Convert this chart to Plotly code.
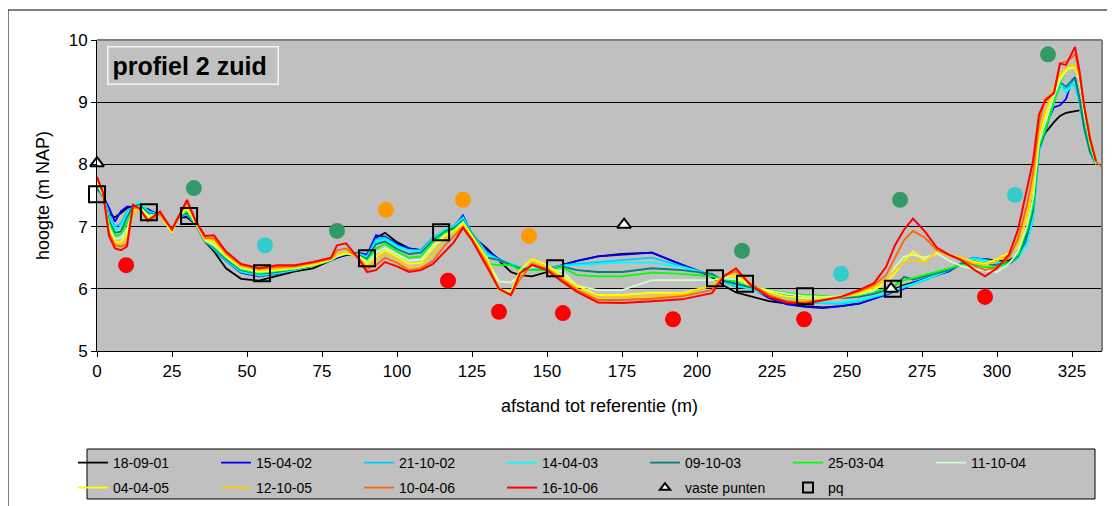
import plotly.graph_objects as go

# ---- shared distance grid (m) ----
X = [0, 2, 4, 6, 8, 10, 12, 14, 17, 21,
     25, 27, 30, 33, 36, 39, 43, 48, 54, 60,
     66, 72, 78, 80, 83, 87, 90, 93, 96, 100,
     104, 108, 112, 116, 119, 122, 125, 130, 134, 138,
     141, 145, 150, 155, 160, 167, 175, 185, 195, 205,
     209, 213, 218, 224, 230, 236, 242, 248, 254, 259,
     263, 266, 269, 272, 276, 280, 284, 288, 292, 296,
     300, 304, 307, 310, 312, 314, 316, 319, 321, 323,
     325, 326, 327.5, 329, 331, 333, 336]

# ---- profile heights (m NAP) per survey ----
S_180901 = [7.65, 7.5, 7.2, 7.15, 7.22, 7.3, 7.32, 7.32, 7.27, 7.18,
            6.95, 7.15, 7.15, 7.03, 6.76, 6.6, 6.33, 6.16, 6.13, 6.2,
            6.28, 6.33, 6.46, 6.5, 6.54, 6.56, 6.52, 6.82, 6.9, 6.75,
            6.65, 6.62, 6.8, 6.9, 6.98, 7.15, 6.85, 6.65, 6.45, 6.27,
            6.22, 6.2, 6.27, 6.38, 6.45, 6.52, 6.56, 6.58, 6.39, 6.19,
            6.05, 5.94, 5.88, 5.8, 5.76, 5.72, 5.7, 5.72, 5.76, 5.84,
            5.92, 6.0, 6.06, 6.1, 6.15, 6.22, 6.3, 6.4, 6.48, 6.48,
            6.45, 6.45, 6.55, 6.9, 7.5, 8.3, 8.5, 8.68, 8.78, 8.83,
            8.85, 8.86, 8.87, None, None, None, None]
S_150402 = [7.6, 7.5, 7.3, 7.08, 7.25, 7.32, 7.32, 7.32, 7.28, 7.18,
            6.95, 7.15, 7.18, 7.03, 6.76, 6.63, 6.45, 6.26, 6.2, 6.24,
            6.3, 6.37, 6.46, 6.5, 6.55, 6.58, 6.55, 6.86, 6.84, 6.72,
            6.65, 6.62, 6.82, 6.92, 7.0, 7.18, 6.88, 6.62, 6.48, 6.38,
            6.33, 6.3, 6.32, 6.38, 6.45, 6.52, 6.55, 6.58, 6.39, 6.2,
            6.13, 6.08, 6.02, 5.85, 5.75, 5.71, 5.69, 5.72, 5.76, 5.84,
            5.9, 5.96, 6.0, 6.1, 6.16, 6.22, 6.28, 6.4, 6.5, 6.47,
            6.42, 6.4, 6.5, 6.78, 7.2, 8.25, 8.6, 8.92, 8.95, 9.05,
            9.35, 9.4, 9.05, 8.6, 8.2, 8.0, None]
S_211002 = [7.62, 7.5, 7.2, 7.0, 7.05, 7.25, 7.32, 7.35, 7.25, 7.18,
            6.95, 7.15, 7.2, 7.03, 6.77, 6.64, 6.45, 6.27, 6.21, 6.25,
            6.3, 6.37, 6.46, 6.52, 6.56, 6.57, 6.52, 6.8, 6.82, 6.7,
            6.62, 6.62, 6.82, 6.95, 7.02, 7.15, 6.9, 6.58, 6.47, 6.4,
            6.35, 6.32, 6.32, 6.38, 6.4, 6.43, 6.45, 6.5, 6.36, 6.22,
            6.1, 6.04, 6.0, 5.88, 5.82, 5.78, 5.77, 5.76, 5.8, 5.86,
            5.92, 5.97, 6.02, 6.07, 6.14, 6.22, 6.3, 6.42, 6.5, 6.47,
            6.43, 6.42, 6.5, 6.75, 7.1, 8.2, 8.5, 9.0, 9.25, 9.22,
            9.32, 9.25, 9.0, 8.6, 8.2, 8.0, None]
S_140403 = [7.65, 7.5, 7.15, 6.95, 7.0, 7.2, 7.3, 7.4, 7.25, 7.18,
            6.95, 7.15, 7.2, 7.03, 6.77, 6.65, 6.47, 6.28, 6.22, 6.25,
            6.31, 6.37, 6.46, 6.52, 6.56, 6.56, 6.5, 6.76, 6.8, 6.68,
            6.62, 6.6, 6.8, 6.95, 7.0, 7.13, 6.88, 6.55, 6.45, 6.4,
            6.34, 6.32, 6.3, 6.37, 6.38, 6.4, 6.42, 6.42, 6.35, 6.22,
            6.1, 6.06, 6.0, 5.9, 5.84, 5.8, 5.78, 5.78, 5.82, 5.88,
            5.93, 5.98, 6.04, 6.08, 6.15, 6.22, 6.3, 6.4, 6.48, 6.45,
            6.42, 6.42, 6.5, 6.72, 7.15, 8.2, 8.55, 9.0, 9.28, 9.15,
            9.28, 9.3, 9.0, 8.6, 8.2, 8.0, None]
S_091003 = [7.65, 7.48, 7.1, 6.9, 6.92, 7.15, 7.32, 7.35, 7.22, 7.18,
            6.95, 7.15, 7.22, 7.04, 6.77, 6.66, 6.48, 6.3, 6.24, 6.27,
            6.32, 6.37, 6.46, 6.52, 6.56, 6.55, 6.48, 6.72, 6.76, 6.64,
            6.56, 6.58, 6.78, 6.92, 6.98, 7.1, 6.88, 6.5, 6.46, 6.38,
            6.33, 6.3, 6.3, 6.36, 6.3, 6.27, 6.27, 6.33, 6.3, 6.24,
            6.12, 6.08, 6.02, 5.95, 5.9, 5.87, 5.85, 5.85, 5.87, 5.92,
            5.98, 6.05, 6.19, 6.15, 6.2, 6.25, 6.3, 6.4, 6.45, 6.4,
            6.38, 6.43, 6.52, 6.85, 7.25, 8.25, 8.5, 9.1, 9.32, 9.25,
            9.35, 9.38, 9.05, 8.6, 8.2, 8.0, None]
S_250304 = [7.7, 7.5, 7.05, 6.85, 6.88, 7.05, 7.3, 7.33, 7.2, 7.18,
            6.95, 7.15, 7.25, 7.04, 6.77, 6.67, 6.5, 6.31, 6.25, 6.28,
            6.32, 6.37, 6.46, 6.53, 6.56, 6.54, 6.45, 6.65, 6.72, 6.6,
            6.5, 6.52, 6.75, 6.9, 6.95, 7.08, 6.87, 6.4, 6.38, 6.38,
            6.3, 6.3, 6.3, 6.35, 6.22, 6.2, 6.2, 6.26, 6.24, 6.2,
            6.15, 6.12, 6.05, 5.98, 5.93, 5.9, 5.88, 5.87, 5.9, 5.95,
            6.0, 6.06, 6.14, 6.17, 6.22, 6.28, 6.33, 6.38, 6.4, 6.35,
            6.35, 6.42, 6.55, 6.95, 7.35, 8.3, 8.55, 9.0, 9.3, 9.5,
            9.6, 9.55, 9.35, 8.8, 8.3, 8.0, None]
S_111004 = [7.7, 7.5, 7.0, 6.8, 6.82, 6.95, 7.28, 7.32, 7.18, 7.18,
            6.95, 7.15, 7.28, 7.05, 6.78, 6.7, 6.52, 6.33, 6.27, 6.3,
            6.33, 6.38, 6.47, 6.53, 6.57, 6.53, 6.43, 6.58, 6.66, 6.56,
            6.45, 6.47, 6.7, 6.87, 6.93, 7.07, 6.85, 6.45, 6.12, 6.1,
            6.22, 6.36, 6.33, 6.28, 6.05, 5.98, 5.98, 6.14, 6.14, 6.14,
            6.17, 6.15, 6.05, 5.97, 5.92, 5.88, 5.87, 5.88, 5.91, 5.97,
            6.12, 6.35, 6.52, 6.55, 6.5, 6.57, 6.45, 6.37, 6.32, 6.3,
            6.27, 6.4, 6.6, 7.0, 7.45, 8.35, 8.65, 9.1, 9.35, 9.5,
            9.6, 9.55, 9.35, 8.85, 8.35, 8.02, None]
S_040405 = [7.72, 7.5, 6.95, 6.75, 6.75, 6.88, 7.25, 7.3, 7.15, 7.18,
            6.9, 7.15, 7.3, 7.05, 6.79, 6.75, 6.53, 6.35, 6.28, 6.3,
            6.34, 6.38, 6.47, 6.52, 6.58, 6.53, 6.4, 6.52, 6.62, 6.52,
            6.4, 6.42, 6.65, 6.85, 6.92, 7.05, 6.85, 6.5, 6.0, 5.95,
            6.3, 6.48, 6.38, 6.22, 6.05, 5.9, 5.9, 5.94, 5.93, 6.05,
            6.2, 6.2, 6.05, 5.95, 5.88, 5.85, 5.85, 5.87, 5.92, 6.0,
            6.1, 6.25, 6.45, 6.6, 6.45, 6.6, 6.54, 6.5, 6.44, 6.4,
            6.48, 6.58, 6.68, 7.15, 7.6, 8.45, 8.75, 9.2, 9.4, 9.52,
            9.55, 9.55, 9.4, 8.9, 8.4, 8.05, None]
S_121005 = [7.75, 7.52, 6.92, 6.72, 6.72, 6.8, 7.2, 7.3, 7.12, 7.18,
            6.95, 7.15, 7.35, 7.06, 6.8, 6.78, 6.55, 6.36, 6.3, 6.33,
            6.35, 6.4, 6.48, 6.55, 6.6, 6.52, 6.36, 6.45, 6.58, 6.47,
            6.35, 6.37, 6.55, 6.82, 6.9, 7.02, 6.8, 6.45, 5.98, 5.92,
            6.15, 6.45, 6.35, 6.18, 6.0, 5.85, 5.87, 5.88, 5.9, 6.05,
            6.22, 6.25, 6.07, 5.92, 5.83, 5.8, 5.83, 5.86, 5.94, 6.03,
            6.15, 6.3, 6.43, 6.46, 6.43, 6.62, 6.52, 6.5, 6.42, 6.38,
            6.45, 6.55, 6.7, 7.2, 7.65, 8.5, 8.85, 9.25, 9.45, 9.55,
            9.6, 9.58, 9.45, 8.95, 8.45, 8.05, None]
S_100406 = [7.78, 7.55, 6.9, 6.7, 6.68, 6.72, 7.3, 7.3, 7.08, 7.2,
            6.95, 7.15, 7.4, 7.07, 6.82, 6.81, 6.57, 6.38, 6.32, 6.35,
            6.36, 6.42, 6.48, 6.62, 6.65, 6.5, 6.32, 6.38, 6.5, 6.42,
            6.3, 6.33, 6.45, 6.7, 6.85, 7.0, 6.8, 6.4, 6.0, 5.9,
            6.15, 6.4, 6.32, 6.15, 5.98, 5.82, 5.82, 5.84, 5.88, 5.98,
            6.22, 6.28, 6.08, 5.9, 5.8, 5.78, 5.82, 5.87, 5.96, 6.06,
            6.22, 6.5, 6.78, 6.93, 6.82, 6.62, 6.55, 6.47, 6.38, 6.3,
            6.35, 6.5, 6.8, 7.35, 7.85, 8.65, 9.05, 9.15, 9.63, 9.65,
            9.72, 9.78, 9.45, 8.95, 8.45, 8.05, 7.9]
S_161006 = [7.8, 7.55, 6.85, 6.65, 6.62, 6.68, 7.35, 7.3, 7.1, 7.24,
            6.95, 7.15, 7.43, 7.08, 6.85, 6.86, 6.6, 6.4, 6.33, 6.38,
            6.38, 6.43, 6.5, 6.7, 6.73, 6.5, 6.27, 6.3, 6.43, 6.36,
            6.27, 6.3, 6.4, 6.6, 6.75, 6.98, 6.78, 6.35, 6.0, 5.9,
            6.25, 6.38, 6.3, 6.12, 5.95, 5.78, 5.77, 5.8, 5.83, 5.93,
            6.2, 6.33, 6.05, 5.87, 5.78, 5.76, 5.82, 5.87, 5.98, 6.09,
            6.35, 6.7, 6.95, 7.13, 6.92, 6.66, 6.55, 6.46, 6.32, 6.2,
            6.33, 6.55, 6.95, 7.6, 8.05, 8.8, 9.02, 9.15, 9.62, 9.6,
            9.79, 9.89, 9.5, 8.95, 8.4, 8.05, None]

SERIES_NAMES = ["18-09-01", "15-04-02", "21-10-02", "14-04-03", "09-10-03", "25-03-04",
                "11-10-04", "04-04-05", "12-10-05", "10-04-06", "16-10-06"]
SERIES_COLORS = ["#000000", "#0000ff", "#00ccff", "#00ffff", "#008080", "#00ff00",
                 "#ccffcc", "#ffff00", "#ffcc00", "#ff6600", "#ff0000"]
SERIES_VALUES = [S_180901, S_150402, S_211002, S_140403, S_091003, S_250304,
                 S_111004, S_040405, S_121005, S_100406, S_161006]

# ---- point markers ----
VP_X = [0, 175.7, 264.7]          # vaste punten
VP_Y = [8.02, 7.03, 6.0]
PQ_X = [0, 17.3, 30.7, 55, 90, 114.7, 152.7, 206, 216, 236, 265.3]   # pq
PQ_Y = [7.52, 7.23, 7.17, 6.25, 6.49, 6.91, 6.33, 6.17, 6.08, 5.88, 6.0]

DOT_RED_X = [9.7, 117, 134, 155.3, 192, 235.7, 296]
DOT_RED_Y = [6.38, 6.13, 5.63, 5.61, 5.51, 5.51, 5.87]
DOT_GREEN_X = [32.3, 80, 215, 267.7, 317]
DOT_GREEN_Y = [7.62, 6.93, 6.61, 7.43, 9.77]
DOT_CYAN_X = [56, 248, 306]
DOT_CYAN_Y = [6.70, 6.24, 7.51]
DOT_ORANGE_X = [96.3, 122, 144]
DOT_ORANGE_Y = [7.27, 7.43, 6.85]

X_TICKS = [0, 25, 50, 75, 100, 125, 150, 175, 200, 225, 250, 275, 300, 325]
Y_TICKS = [5, 6, 7, 8, 9, 10]

FONT = "Liberation Sans, Arial, sans-serif"

fig = go.Figure()

for cx, cy, col in [(DOT_RED_X, DOT_RED_Y, "#ff0000"),
                    (DOT_GREEN_X, DOT_GREEN_Y, "#339966"),
                    (DOT_CYAN_X, DOT_CYAN_Y, "#33cccc"),
                    (DOT_ORANGE_X, DOT_ORANGE_Y, "#ff9900")]:
    fig.add_trace(go.Scatter(x=cx, y=cy, mode="markers", showlegend=False,
                             marker=dict(size=16, color=col), hoverinfo="skip",
                             cliponaxis=False))

for i, (nm, col, ys) in enumerate(zip(SERIES_NAMES, SERIES_COLORS, SERIES_VALUES)):
    fig.add_trace(go.Scatter(x=X, y=ys, mode="lines", name=nm,
                             line=dict(color=col, width=2 if col == "#ff0000" else 1.8),
                             legend="legend" if i < 7 else "legend2"))

VP_MARKER = dict(symbol="triangle-up", color="white", line=dict(color="black", width=2))
PQ_MARKER = dict(symbol="square-open", color="black", line=dict(width=2))

fig.add_trace(go.Scatter(x=VP_X, y=VP_Y, mode="markers", name="vaste punten",
                         marker=dict(size=12, **VP_MARKER), legendgroup="vp",
                         showlegend=False, cliponaxis=False))
fig.add_trace(go.Scatter(x=PQ_X, y=PQ_Y, mode="markers", name="pq",
                         marker=dict(size=16, **PQ_MARKER), legendgroup="pq",
                         showlegend=False, cliponaxis=False))
# legend keys (smaller symbols, as in the original legend)
fig.add_trace(go.Scatter(x=[None], y=[None], mode="markers", name="vaste punten",
                         marker=dict(size=9, **VP_MARKER), legendgroup="vp",
                         legend="legend2"))
fig.add_trace(go.Scatter(x=[None], y=[None], mode="markers", name="pq",
                         marker=dict(size=10, **PQ_MARKER), legendgroup="pq",
                         legend="legend2"))

# page offset: the browser body adds an 8px margin around the figure
OFF = 8
W, H = 1115 - OFF, 506 - OFF
L, R, T, B = 97 - OFF, 1102 - OFF, 40 - OFF, 351 - OFF
pw, ph = R - L, B - T


def px(xw):
    """window x pixel -> paper x"""
    return (xw - OFF - L) / pw


def py(yw):
    """window y pixel -> paper y"""
    return (B - (yw - OFF)) / ph


leg_common = dict(orientation="h", xanchor="left", yanchor="top",
                  bgcolor="rgba(0,0,0,0)", borderwidth=0,
                  font=dict(family=FONT, size=14, color="black"),
                  entrywidth=98, itemwidth=30, traceorder="normal")

fig.update_layout(
    width=W, height=H,
    margin=dict(l=L, r=W - R, t=T, b=H - B, autoexpand=False),
    paper_bgcolor="white", plot_bgcolor="#c0c0c0",
    font=dict(family=FONT, size=17, color="black"),
    xaxis=dict(range=[0, 335], tickvals=X_TICKS, ticks="outside", ticklen=5,
               tickcolor="black", showline=True, linecolor="black", linewidth=1,
               showgrid=False, zeroline=False, automargin=False,
               tickfont=dict(size=17),
               title=dict(text="afstand tot referentie (m)", standoff=18,
                          font=dict(size=18))),
    yaxis=dict(range=[5, 10], tickvals=Y_TICKS, ticks="outside", ticklen=5,
               tickcolor="black", showline=True, linecolor="black", linewidth=1,
               showgrid=True, gridcolor="black", gridwidth=1, zeroline=False,
               automargin=False, tickfont=dict(size=17),
               title=dict(text="hoogte (m NAP)", standoff=14, font=dict(size=18))),
    legend=dict(x=px(73), y=py(447), **leg_common),
    legend2=dict(x=px(73), y=py(472), **leg_common),
    shapes=[
        # outer chart border
        dict(type="rect", xref="paper", yref="paper", x0=px(8), x1=px(1113),
             y0=py(520), y1=py(10), line=dict(color="black", width=1), layer="below"),
        # legend box
        dict(type="rect", xref="paper", yref="paper", x0=px(87), x1=px(1095),
             y0=py(499), y1=py(449), fillcolor="#c0c0c0",
             line=dict(color="black", width=1), layer="below"),
        # grey plot frame (top, right)
        dict(type="line", xref="paper", yref="paper", x0=0, x1=1, y0=1, y1=1,
             line=dict(color="#808080", width=2)),
        dict(type="line", xref="paper", yref="paper", x0=1, x1=1, y0=0, y1=1,
             line=dict(color="#808080", width=2)),
    ],
    annotations=[
        dict(text="<b>profiel 2 zuid</b>", xref="paper", yref="paper",
             x=px(107), y=py(46), xanchor="left", yanchor="top", showarrow=False,
             width=161, height=28, align="left", valign="middle",
             font=dict(family=FONT, size=25, color="black"),
             bgcolor="#c0c0c0", bordercolor="#f4f4f4", borderwidth=1.5, borderpad=4),
    ],
)

fig.write_html("out.html")
